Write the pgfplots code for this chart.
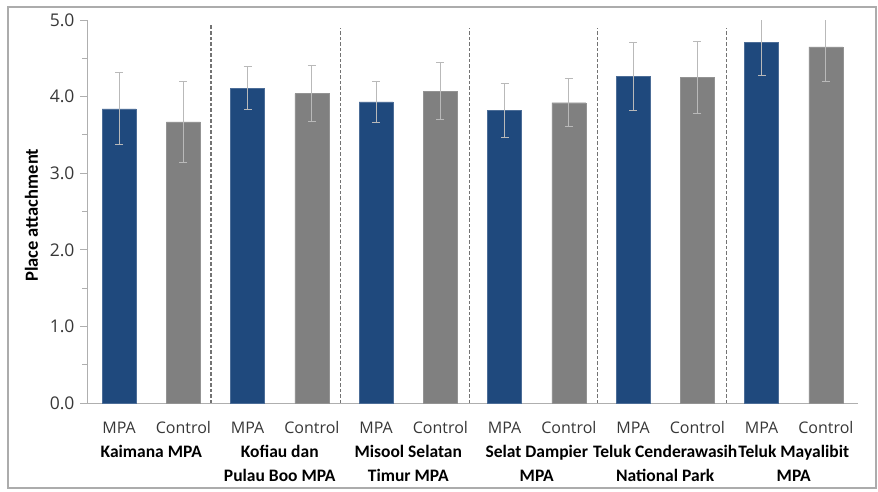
\documentclass[border=0pt]{standalone}
\usepackage{pgfplots}
\usepackage{pgfplotstable}
\pgfplotsset{compat=1.18}
\usepackage{fontspec}
\setmainfont{Carlito}
\newfontfamily\tickfont{Open Sans}
\definecolor{mpablue}{RGB}{31,73,125}
\definecolor{ctrlgray}{RGB}{128,128,128}
\definecolor{errgray}{RGB}{185,185,185}
\definecolor{axgray}{RGB}{175,175,175}
\definecolor{txtgray}{RGB}{55,55,55}
\definecolor{sepgray}{RGB}{115,115,115}

\pgfplotstableread{
x y e
0 3.84 0.47
2 4.11 0.28
4 3.93 0.27
6 3.82 0.35
8 4.26 0.44
10 4.71 0.44
}\mpa
\pgfplotstableread{
x y e
1 3.67 0.53
3 4.04 0.37
5 4.07 0.37
7 3.92 0.31
9 4.25 0.47
11 4.65 0.45
}\ctrl

\begin{document}
\begin{tikzpicture}
\path[use as bounding box] (0,0) rectangle (878pt,491pt);
\draw[color=gray!65, line width=1.3pt] (8pt,3pt) rectangle (876pt,484pt);
\begin{axis}[
  at={(87pt,88pt)}, anchor=south west,
  scale only axis, width=771pt, height=383pt,
  xmin=-0.5, xmax=11.5, ymin=0, ymax=5,
  axis x line*=bottom, axis y line*=left,
  axis line style={axgray, line width=1pt},
  clip mode=individual,
  xtick={0,1,...,11},
  xticklabels={MPA,Control,MPA,Control,MPA,Control,MPA,Control,MPA,Control,MPA,Control},
  xtick style={draw=none},
  xticklabel style={font=\tickfont\fontsize{16}{18}\selectfont, text=txtgray, yshift=-8pt},
  ytick={0,1,...,5},
  minor ytick={0.5,1.5,...,4.5},
  tick align=outside,
  major tick length=7pt, minor tick length=5pt,
  ytick style={axgray, line width=1pt},
  minor tick style={axgray, line width=1pt},
  yticklabel style={font=\tickfont\fontsize{17.5}{18}\selectfont, text=txtgray, /pgf/number format/fixed, /pgf/number format/precision=1, /pgf/number format/fixed zerofill, /pgf/number format/assume math mode=true, xshift=-2pt},
  ylabel={Place attachment},
  ylabel style={font=\bfseries\fontsize{18.5}{20}\selectfont, at={(axis description cs:-0.072,0.49)}, anchor=center},
  error bars/error bar style={errgray, line width=1pt},
  error bars/error mark options={rotate=90, errgray, mark size=4pt, line width=1pt},
]
\addplot[ybar, bar width=34pt, bar shift=0pt, fill=mpablue, draw=mpablue!80!white,
  error bars/.cd, y dir=both, y explicit]
  table[x=x, y=y, y error=e]{\mpa};
\addplot[ybar, bar width=34pt, bar shift=0pt, fill=ctrlgray, draw=ctrlgray!85!white,
  error bars/.cd, y dir=both, y explicit]
  table[x=x, y=y, y error=e]{\ctrl};
\addplot[sepgray, line width=1.2pt, dash pattern=on 3.5pt off 2pt] coordinates {(1.43,0) (1.43,4.93)};
\addplot[sepgray, line width=1.2pt, dash pattern=on 3.5pt off 2pt] coordinates {(3.45,0) (3.45,4.90)};
\addplot[sepgray, line width=1.2pt, dash pattern=on 3.5pt off 2pt] coordinates {(5.45,0) (5.45,4.90)};
\addplot[sepgray, line width=1.2pt, dash pattern=on 3.5pt off 2pt] coordinates {(7.45,0) (7.45,4.90)};
\addplot[sepgray, line width=1.2pt, dash pattern=on 3.5pt off 2pt] coordinates {(9.45,0) (9.45,4.90)};
\tikzset{grp/.style={font=\bfseries\fontsize{17.5}{24}\selectfont, align=center, anchor=north, yshift=-42pt, inner sep=0pt, text=black}}
\node[grp] at (axis cs:0.5,0) {Kaimana MPA};
\node[grp] at (axis cs:2.5,0) {Kofiau dan\\Pulau Boo MPA};
\node[grp] at (axis cs:4.5,0) {Misool Selatan\\Timur MPA};
\node[grp] at (axis cs:6.5,0) {Selat Dampier\\MPA};
\node[grp] at (axis cs:8.5,0) {Teluk Cenderawasih\\National Park};
\node[grp] at (axis cs:10.5,0) {Teluk Mayalibit\\MPA};
\end{axis}
\end{tikzpicture}
\end{document}
